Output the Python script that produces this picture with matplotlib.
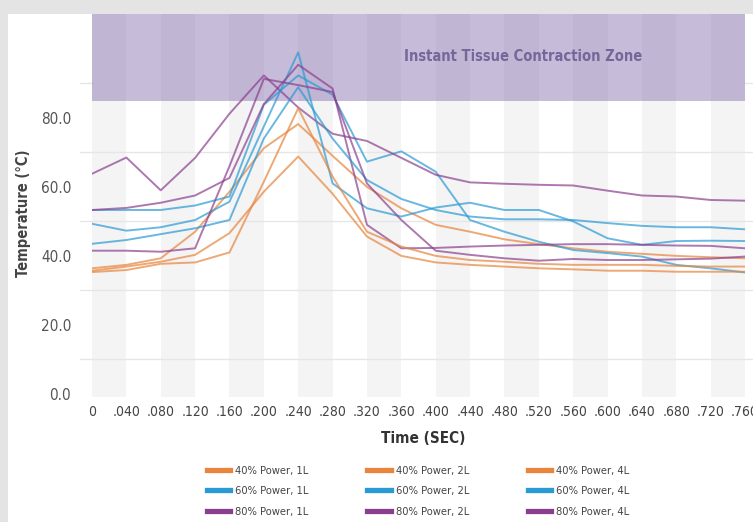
import matplotlib
matplotlib.use("Agg")
from matplotlib import pyplot as plt
from matplotlib.lines import Line2D
from matplotlib.patches import Rectangle

plt.rcParams['font.family'] = ['DejaVu Sans']
plt.rcParams['font.stretch'] = 'condensed'

# time axis (sec)
t = [0.00, 0.04, 0.08, 0.12, 0.16, 0.20, 0.24, 0.28, 0.32, 0.36,
     0.40, 0.44, 0.48, 0.52, 0.56, 0.60, 0.64, 0.68, 0.72, 0.76]
t_labels = ["0", ".040", ".080", ".120", ".160", ".200", ".240", ".280", ".320", ".360",
            ".400", ".440", ".480", ".520", ".560", ".600", ".640", ".680", ".720", ".760"]

# temperatures (deg C)
p40_1l = [36.4, 37.4, 39.3, 47.0, 58.6, 71.2, 78.2, 69.0, 60.0, 53.8,
          49.0, 47.0, 44.8, 43.4, 42.2, 41.2, 40.6, 40.0, 39.6, 39.3]
p40_2l = [35.7, 36.9, 38.3, 40.3, 46.6, 58.6, 68.8, 58.0, 45.6, 40.0,
          38.1, 37.4, 36.9, 36.4, 36.1, 35.7, 35.7, 35.4, 35.4, 35.4]
p40_4l = [35.3, 35.9, 37.7, 38.1, 41.0, 61.5, 82.8, 63.0, 47.0, 42.7,
          40.0, 38.8, 38.3, 37.7, 37.4, 37.4, 37.4, 37.1, 36.9, 36.9]
p60_1l = [53.3, 53.3, 53.3, 54.6, 57.2, 83.8, 92.3, 86.7, 67.3, 70.3,
          64.4, 50.4, 47.0, 44.1, 41.7, 40.8, 39.8, 37.4, 36.4, 35.2]
p60_2l = [49.3, 47.3, 48.3, 50.4, 55.7, 77.5, 99.0, 61.0, 53.8, 51.4,
          54.0, 55.4, 53.3, 53.3, 50.0, 45.1, 43.2, 44.3, 44.4, 44.3]
p60_4l = [43.5, 44.6, 46.3, 48.0, 50.4, 74.0, 88.9, 74.0, 62.0, 56.5,
          53.3, 51.4, 50.6, 50.6, 50.4, 49.5, 48.7, 48.3, 48.3, 47.7]
p80_1l = [63.8, 68.5, 59.0, 68.4, 81.2, 92.3, 83.0, 75.4, 73.3, 68.4,
          63.5, 61.3, 60.9, 60.6, 60.4, 58.9, 57.5, 57.2, 56.2, 56.0]
p80_2l = [53.3, 53.9, 55.4, 57.5, 62.6, 84.0, 95.4, 88.5, 49.0, 42.2,
          42.3, 42.7, 43.0, 43.2, 43.4, 43.4, 43.2, 43.0, 42.9, 42.2]
p80_4l = [41.5, 41.5, 41.2, 42.2, 66.0, 91.3, 89.5, 87.5, 61.0, 50.4,
          41.5, 40.3, 39.3, 38.6, 39.1, 38.8, 38.8, 39.0, 39.2, 39.8]

zone_low = 85
y_top = 110.1
y_ticks = [0, 20, 40, 60, 80]
grid_y = [10, 30, 50, 70, 90]

orange = "#e8843c"
blue = "#2a9ad4"
purple = "#8a3f8e"

series = [
    ("40% Power, 1L", p40_1l, orange),
    ("60% Power, 1L", p60_1l, blue),
    ("80% Power, 1L", p80_1l, purple),
    ("40% Power, 2L", p40_2l, orange),
    ("60% Power, 2L", p60_2l, blue),
    ("80% Power, 2L", p80_2l, purple),
    ("40% Power, 4L", p40_4l, orange),
    ("60% Power, 4L", p60_4l, blue),
    ("80% Power, 4L", p80_4l, purple),
]

fig = plt.figure(figsize=(7.53, 5.22), dpi=100, facecolor="#e4e4e4")
fig.patches.append(Rectangle((8 / 753, 0), 1, 1 - 14 / 522, transform=fig.transFigure,
                             facecolor="white", edgecolor="none", zorder=-5))
ax = fig.add_axes([92 / 753, 1 - 397 / 522, 653 / 753, 383 / 522])
ax.set_facecolor("white")
ax.set_xlim(0, 0.76)
ax.set_ylim(-0.9, y_top)

# alternating column shading
for k in range(0, len(t) - 1, 2):
    ax.axvspan(t[k], t[k + 1], color="#f4f4f4", lw=0, zorder=0)

for g in grid_y:
    if g < zone_low:
        ax.axhline(g, xmin=-0.018, xmax=1.02, color="#e6e6e6", lw=1, clip_on=False, zorder=0.5)
    else:
        # hidden behind the zone, only the overhang shows
        ax.axhline(g, xmin=-0.018, xmax=0, color="#e6e6e6", lw=1, clip_on=False, zorder=0.5)
        ax.axhline(g, xmin=1, xmax=1.02, color="#e6e6e6", lw=1, clip_on=False, zorder=0.5)

ax.axhspan(zone_low, y_top, color="#785fa5", alpha=0.42, lw=0, zorder=1)
ax.text(0.502, 97.7, "Instant Tissue Contraction Zone", color="#76669a",
        fontsize=10.5, fontweight="bold", ha="center", va="center", zorder=3)

handles = []
for name, vals, col in series:
    ax.plot(t, vals, color=col, lw=1.4, alpha=0.7, zorder=2)
    handles.append(Line2D([], [], color=col, lw=3.8, label=name))

for s in ax.spines.values():
    s.set_visible(False)
ax.tick_params(length=0)
ax.set_xticks(t)
ax.set_xticklabels(t_labels, fontsize=10, color="#444444")
ax.set_yticks(y_ticks)
ax.set_yticklabels(["%.1f" % v for v in y_ticks], fontsize=11, color="#555555")
ax.tick_params(axis="y", pad=15)
ax.tick_params(axis="x", pad=6)

ax.set_xlabel("Time (SEC)", fontsize=11, fontweight="bold", color="#333333")
ax.xaxis.set_label_coords(0.507, -0.088)
ax.set_ylabel("Temperature (°C)", fontsize=10.5, fontweight="bold", color="#444444")
ax.yaxis.set_label_coords(-0.094, 0.48)

fig.legend(handles=handles, ncol=3, loc="upper center", bbox_to_anchor=(418 / 753, 1 - 456 / 522),
           frameon=False, fontsize=8, labelcolor="#444444", handlelength=2.1,
           columnspacing=5.3, labelspacing=0.93, handletextpad=0.45)

fig.savefig("out.png", dpi=100, facecolor=fig.get_facecolor())
